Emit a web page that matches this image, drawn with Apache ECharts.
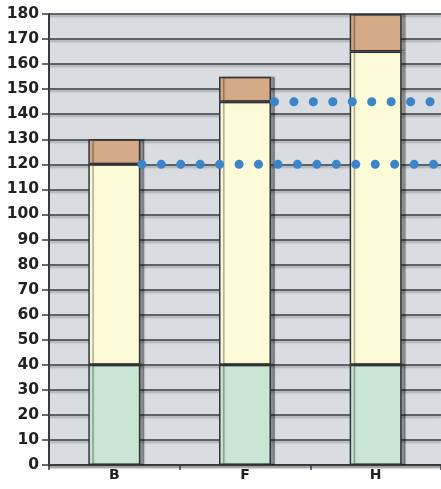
<!DOCTYPE html>
<html>
<head>
<meta charset="utf-8">
<script src="https://cdn.jsdelivr.net/npm/echarts@6/dist/echarts.min.js"></script>
<style>
html,body{margin:0;padding:0;background:#fff;}
#c{width:441px;height:489px;}
</style>
</head>
<body>
<div id="c"></div>
<script>
var categories = ['B', 'F', 'H'];
var baseValues = [40, 40, 40];
var midValues = [80, 105, 125];
var topValues = [10, 10, 15];
var yTicks = {min: 0, max: 180, interval: 10};
var dotLevels = [120, 145];
var dotStarts = [0.71, 1.725];
var dotEnd = 3;

var chart = echarts.init(document.getElementById('c'));
var dark = '#363b40';
var barBorder = {borderColor: '#2f3336', borderWidth: 1.5, shadowColor: 'rgba(0,0,0,0.35)', shadowBlur: 1, shadowOffsetX: 4, shadowOffsetY: 0};

function seg(name, data, color) {
  return {
    name: name, type: 'bar', stack: 'total', data: data, barWidth: 52,
    itemStyle: Object.assign({color: color}, barBorder),
    z: 3
  };
}

var dotSeries = dotLevels.map(function (lv, i) {
  return {
    type: 'line', xAxisIndex: 1, symbol: 'none', silent: true, z: 10,
    data: [[dotStarts[i], lv], [dotEnd, lv]],
    lineStyle: {color: '#3b85c8', width: 9, type: [0.1, 19.35], cap: 'round'}
  };
});

chart.setOption({
  animation: false,
  grid: {left: 49, top: 14, right: -1, bottom: 24, show: true, backgroundColor: '#d9dde2', borderWidth: 0},
  xAxis: [{
    type: 'category', data: categories,
    axisLine: {lineStyle: {color: dark, width: 2, shadowColor: 'rgba(0,0,0,0.35)', shadowOffsetY: 2, shadowBlur: 2}},
    axisTick: {show: true, length: 5, lineStyle: {color: dark, width: 1.5}},
    axisLabel: {color: '#222', fontSize: 14, fontWeight: 'bold', fontFamily: 'DejaVu Sans', margin: 3}
  }, {
    type: 'value', min: 0, max: 3, show: false
  }],
  yAxis: {
    type: 'value', min: yTicks.min, max: yTicks.max, interval: yTicks.interval,
    axisLine: {show: true, lineStyle: {color: dark, width: 2}},
    axisTick: {show: true, length: 7, lineStyle: {color: dark, width: 1.5}},
    axisLabel: {color: '#222', fontSize: 15.5, fontWeight: 'bold', fontFamily: 'DejaVu Sans', margin: 10},
    splitLine: {show: true, lineStyle: {color: dark, width: 1.5, shadowColor: 'rgba(0,0,0,0.3)', shadowOffsetY: 2, shadowBlur: 2}}
  },
  series: [
    seg('base', baseValues, '#c9e5d3'),
    seg('mid', midValues, '#fefbd9'),
    seg('top', topValues, '#d5aa86')
  ].concat(dotSeries)
});
</script>
</body>
</html>
